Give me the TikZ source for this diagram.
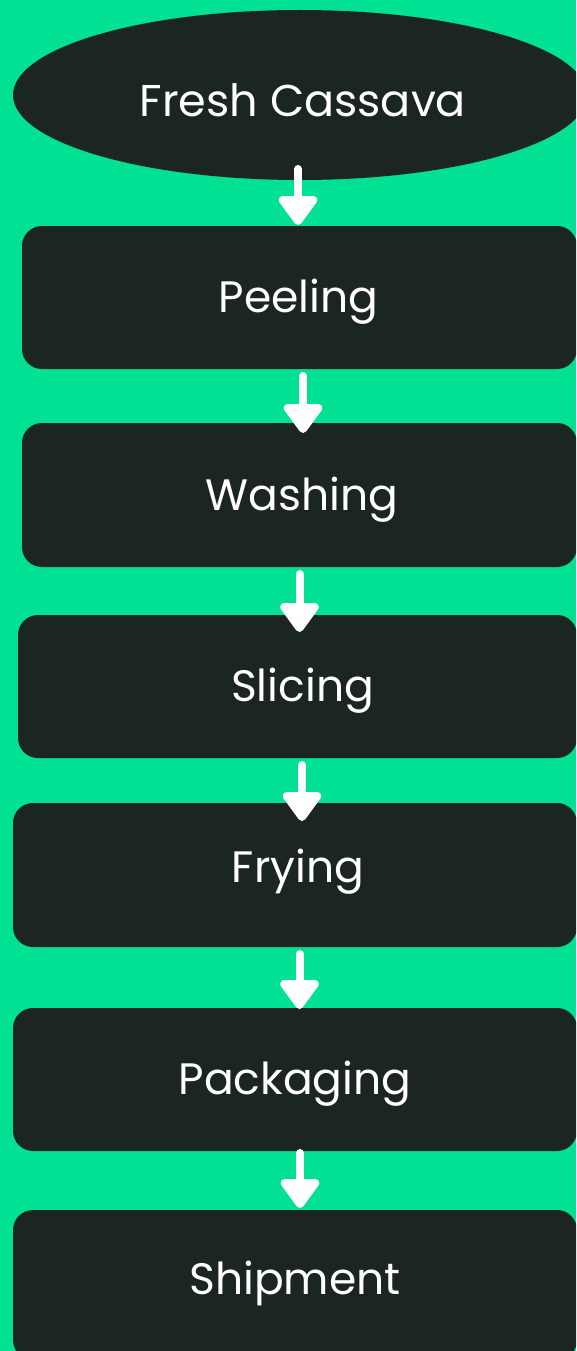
\documentclass[tikz,border=0pt]{standalone}
\usepackage{fontspec}
\setmainfont{Poppins}
\usetikzlibrary{shapes.geometric,arrows.meta}
\definecolor{bggreen}{RGB}{0,225,148}
\definecolor{darkbox}{RGB}{27,38,35}
\tikzset{
  stepbox/.style={draw=none, fill=darkbox, rounded corners=20pt, inner sep=0pt, outer sep=0pt,
    text=white, font=\fontsize{44}{52}\selectfont, text height=30pt, text depth=0pt, anchor=center},
  startoval/.style={ellipse, draw=none, fill=darkbox, inner sep=0pt, outer sep=0pt,
    text=white, font=\fontsize{44.5}{52}\selectfont, text height=43pt, text depth=0pt,
    minimum width=574pt, minimum height=170pt},
  flow/.style={draw=white, line width=8pt, line cap=round, -{Triangle[width=44pt,length=32pt,round]}}
}
\begin{document}
\begin{tikzpicture}[x=1pt,y=-1pt]
\fill[bggreen] (0,0) rectangle (576,1351);
\useasboundingbox (0,0) rectangle (576,1351);
\clip (0,0) rectangle (576,1351);
\node[startoval] (fresh) at (300,95) {\hspace*{6pt}Fresh Cassava};
\node[stepbox, minimum width=555pt, minimum height=143pt] (peel) at (299.5,297.5) {\hspace*{-2pt}Peeling};
\node[stepbox, minimum width=555pt, minimum height=144pt] (wash) at (299.5,495) {\hspace*{5pt}Washing};
\node[stepbox, minimum width=559pt, minimum height=143pt] (slice) at (297.5,686.5) {\hspace*{10pt}Slicing};
\node[stepbox, minimum width=564pt, minimum height=144pt, text depth=16pt] (fry) at (295,875) {\hspace*{6pt}Frying};
\node[stepbox, minimum width=564pt, minimum height=143pt] (pack) at (295,1079.5) {Packaging};
\node[stepbox, minimum width=564pt, minimum height=150pt, text depth=12pt] (ship) at (295,1285) {Shipment};
\draw[flow] ([xshift=-2pt,yshift=11pt]fresh.south) -- ([xshift=-1.5pt,yshift=1pt]peel.north);
\draw[flow] ([xshift=3.5pt,yshift=-7pt]peel.south) -- ([xshift=3.5pt,yshift=-10pt]wash.north);
\draw[flow] ([xshift=0pt,yshift=-7pt]wash.south) -- ([xshift=2pt,yshift=-17pt]slice.north);
\draw[flow] ([xshift=4.5pt,yshift=-7pt]slice.south) -- ([xshift=7pt,yshift=-18pt]fry.north);
\draw[flow] ([xshift=4.5pt,yshift=-7pt]fry.south) -- ([xshift=4.5pt,yshift=-1pt]pack.north);
\draw[flow] ([xshift=5pt,yshift=-2pt]pack.south) -- ([xshift=5pt,yshift=2pt]ship.north);
\end{tikzpicture}
\end{document}
